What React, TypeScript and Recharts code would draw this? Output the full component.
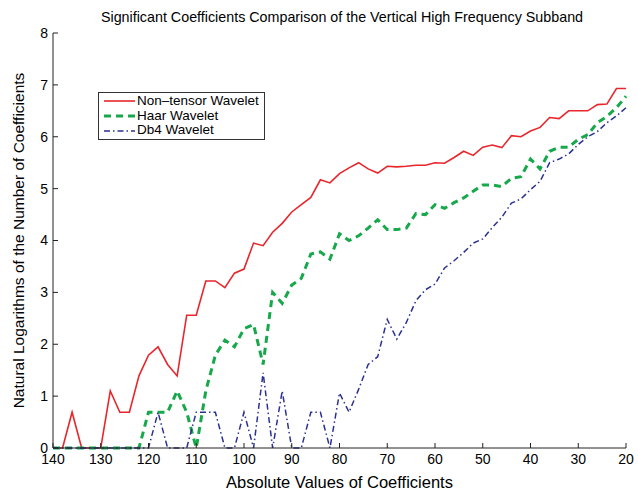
import { LineChart, Line, XAxis, YAxis, Legend } from 'recharts';

const coefficientValues = [
    140, 138, 136, 134, 132, 130, 128, 126, 124, 122,
    120, 118, 116, 114, 112, 110, 108, 106, 104, 102,
    100, 98, 96, 94, 92, 90, 88, 86, 84, 82,
    80, 78, 76, 74, 72, 70, 68, 66, 64, 62,
    60, 58, 56, 54, 52, 50, 48, 46, 44, 42,
    40, 38, 36, 34, 32, 30, 28, 26, 24, 22,
    20,
];

const nonTensor = [
    0, 0, 0.69, 0, 0, 0, 1.1, 0.69, 0.69, 1.39,
    1.79, 1.95, 1.61, 1.39, 2.56, 2.56, 3.22, 3.22, 3.09, 3.37,
    3.45, 3.95, 3.9, 4.16, 4.33, 4.55, 4.69, 4.83, 5.17, 5.11,
    5.29, 5.4, 5.5, 5.38, 5.3, 5.43, 5.42, 5.43, 5.45, 5.45,
    5.5, 5.49, 5.6, 5.72, 5.64, 5.8, 5.84, 5.79, 6.02, 6.0,
    6.11, 6.18, 6.37, 6.35, 6.5, 6.5, 6.5, 6.62, 6.63, 6.93,
    6.93,
];

const haar = [
    0, 0, 0, 0, 0, 0, 0, 0, 0, 0,
    0.69, 0.69, 0.69, 1.1, 0.69, 0, 1.1, 1.79, 2.08, 1.95,
    2.3, 2.38, 1.61, 3.0, 2.79, 3.14, 3.27, 3.74, 3.78, 3.64,
    4.13, 4.0, 4.09, 4.24, 4.4, 4.21, 4.21, 4.24, 4.52, 4.5,
    4.69, 4.62, 4.73, 4.82, 4.95, 5.07, 5.07, 5.04, 5.2, 5.23,
    5.57, 5.38, 5.72, 5.8, 5.8, 5.95, 6.04, 6.27, 6.39, 6.56,
    6.78,
];

const db4 = [
    0, 0, 0, 0, 0, 0, 0, 0, 0, 0,
    0, 0.69, 0, 0, 0, 0.69, 0.69, 0.69, 0, 0,
    0.69, 0, 1.45, 0, 1.1, 0, 0, 0.69, 0.69, 0,
    1.06, 0.69, 1.13, 1.61, 1.76, 2.48, 2.1, 2.42, 2.84, 3.05,
    3.16, 3.47, 3.61, 3.77, 3.95, 4.03, 4.25, 4.45, 4.72, 4.8,
    4.98, 5.14, 5.5, 5.57, 5.67, 5.85, 6.0, 6.1, 6.27, 6.4,
    6.56,
];

const xTicks = [140, 130, 120, 110, 100, 90, 80, 70, 60, 50, 40, 30, 20];
const yTicks = [0, 1, 2, 3, 4, 5, 6, 7, 8];

const data = coefficientValues.map((x, i) => ({
    x,
    nonTensor: nonTensor[i],
    haar: haar[i],
    db4: db4[i],
}));

const series = [
    { key: 'nonTensor', name: 'Non\u2013tensor Wavelet', color: '#e8262c', width: 1.6, dash: undefined },
    { key: 'haar', name: 'Haar Wavelet', color: '#16a84a', width: 3, dash: '7 5' },
    { key: 'db4', name: 'Db4 Wavelet', color: '#2b3192', width: 1.5, dash: '6 3 1.5 3' },
];

const FONT = "'Liberation Sans', Arial, Helvetica, sans-serif";
const AXIS = '#222';

function LegendBox() {
    return (
        <div
            style={{
                border: '1px solid #333',
                background: '#fff',
                padding: '1px 5px 1px 5px',
                fontFamily: FONT,
                fontSize: 13.5,
                lineHeight: '14.7px',
                color: '#000',
                whiteSpace: 'nowrap',
            }}
        >
            {series.map((s) => (
                <div key={s.key} style={{ display: 'flex', alignItems: 'center' }}>
                    <svg width={31} height={10} style={{ marginRight: 2 }}>
                        <line
                            x1={0}
                            y1={5}
                            x2={31}
                            y2={5}
                            stroke={s.color}
                            strokeWidth={s.width}
                            strokeDasharray={s.dash}
                        />
                    </svg>
                    <span>{s.name}</span>
                </div>
            ))}
        </div>
    );
}

export default function App() {
    return (
        <div style={{ position: 'fixed', left: 0, top: 0, width: 638, height: 491, background: '#fff' }}>
            <LineChart
                width={638}
                height={491}
                data={data}
                margin={{ top: 33, right: 12, bottom: 0, left: 0 }}
                style={{ fontFamily: FONT }}
            >
                <XAxis
                    dataKey="x"
                    type="number"
                    domain={[20, 140]}
                    reversed
                    ticks={xTicks}
                    height={43}
                    stroke={AXIS}
                    tickSize={-5}
                    tickMargin={11}
                    tick={{ fill: '#000', fontSize: 14 }}
                    label={{
                        value: 'Absolute Values of Coefficients',
                        position: 'insideBottom',
                        offset: 3,
                        fill: '#000',
                        fontSize: 16.5,
                    }}
                />
                <XAxis
                    xAxisId="top"
                    dataKey="x"
                    type="number"
                    orientation="top"
                    domain={[20, 140]}
                    reversed
                    ticks={xTicks}
                    height={0}
                    stroke={AXIS}
                    tickSize={-5}
                    tick={false}
                />
                <YAxis
                    type="number"
                    domain={[0, 8]}
                    ticks={yTicks}
                    width={53}
                    stroke={AXIS}
                    tickSize={-5}
                    tickMargin={10}
                    tick={{ fill: '#000', fontSize: 14 }}
                    label={{
                        value: 'Natural Logarithms of the Number of Coefficients',
                        angle: -90,
                        position: 'insideLeft',
                        offset: 18,
                        fill: '#000',
                        fontSize: 15.5,
                        style: { textAnchor: 'middle' },
                    }}
                />
                <YAxis
                    yAxisId="right"
                    type="number"
                    orientation="right"
                    domain={[0, 8]}
                    ticks={yTicks}
                    width={0}
                    stroke={AXIS}
                    tickSize={-5}
                    tick={false}
                />
                <Legend
                    layout="vertical"
                    align="center"
                    verticalAlign="middle"
                    wrapperStyle={{ left: 98, top: 92, width: 'auto', height: 'auto' }}
                    content={() => <LegendBox />}
                />
                {series.map((s) => (
                    <Line
                        key={s.key}
                        dataKey={s.key}
                        name={s.name}
                        stroke={s.color}
                        strokeWidth={s.width}
                        strokeDasharray={s.dash}
                        dot={false}
                        activeDot={false}
                        isAnimationActive={false}
                    />
                ))}
                <text x={342} y={22} textAnchor="middle" fontSize={14.3} fill="#000" fontFamily={FONT}>
                    Significant Coefficients Comparison of the Vertical High Frequency Subband
                </text>
            </LineChart>
        </div>
    );
}
